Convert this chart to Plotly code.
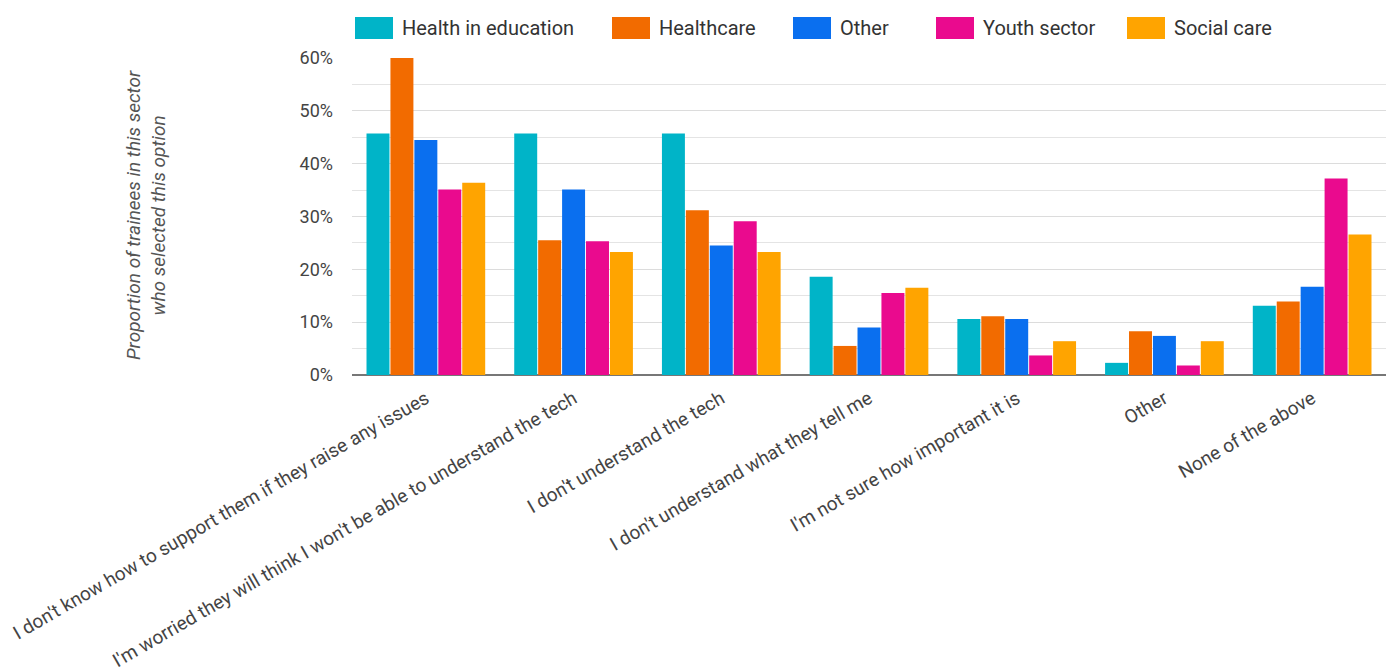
import plotly.graph_objects as go

categories = [
    "I don't know how to support them if they raise any issues",
    "I'm worried they will think I won't be able to understand the tech",
    "I don't understand the tech",
    "I don't understand what they tell me",
    "I'm not sure how important it is",
    "Other",
    "None of the above",
]
series_names = ["Health in education", "Healthcare", "Other", "Youth sector", "Social care"]
health_in_education = [45.7, 45.7, 45.7, 18.6, 10.6, 2.3, 13.1]
healthcare = [60.0, 25.5, 31.2, 5.5, 11.1, 8.3, 13.9]
other = [44.5, 35.1, 24.5, 9.0, 10.6, 7.4, 16.7]
youth_sector = [35.1, 25.3, 29.1, 15.5, 3.7, 1.8, 37.2]
social_care = [36.4, 23.3, 23.3, 16.5, 6.4, 6.4, 26.6]
y_ticks = [0, 10, 20, 30, 40, 50, 60]
y_tick_labels = ["0%", "10%", "20%", "30%", "40%", "50%", "60%"]

colors = ["#00B4C8", "#F26B00", "#0A6FEF", "#EA0A8E", "#FFA400"]
all_values = [health_in_education, healthcare, other, youth_sector, social_care]

fig = go.Figure()
for name, vals, col in zip(series_names, all_values, colors):
    fig.add_trace(go.Bar(
        x=categories, y=vals, name=name,
        marker=dict(color=col, line=dict(width=0)),
        showlegend=False,
    ))

W, H = 1386, 671
L, R, T, B = 352, 0, 58, 296

# custom legend (wide swatches like the reference)
legend_x = [355, 612, 793, 936, 1127]
for name, col, lx in zip(series_names, colors, legend_x):
    fig.add_shape(type="rect", xref="paper", yref="paper",
                  x0=(lx - L) / (W - L - R), x1=(lx + 38 - L) / (W - L - R),
                  y0=(H - B - 39) / (H - T - B), y1=(H - B - 17) / (H - T - B),
                  fillcolor=col, line=dict(width=0))
    fig.add_annotation(xref="paper", yref="paper",
                       x=(lx + 45 - L) / (W - L - R), y=(H - B - 28) / (H - T - B),
                       text=name, showarrow=False, xanchor="left", yanchor="middle",
                       font=dict(size=20, color="#333333", family="Roboto"))

fig.add_annotation(xref="paper", yref="paper",
                   x=(146 - L) / (W - L - R), y=(H - B - 215) / (H - T - B),
                   text="<i>Proportion of trainees in this sector<br>who selected this option</i>",
                   textangle=-90, showarrow=False, xanchor="center", yanchor="middle",
                   font=dict(size=19, color="#555555", family="Roboto"))

fig.update_layout(
    width=W, height=H,
    margin=dict(l=L, r=R, t=T, b=B),
    plot_bgcolor="white", paper_bgcolor="white",
    barmode="group", bargap=0.19, bargroupgap=0.04,
    font=dict(family="Roboto", color="#444444"),
    xaxis=dict(tickangle=-30, tickfont=dict(size=19, color="#444444"),
               showgrid=False, showline=False, ticks="", ticklabelstandoff=8),
    yaxis=dict(range=[0, 60], tickvals=y_ticks, ticktext=y_tick_labels,
               tickfont=dict(size=18, color="#444444"),
               showgrid=True, gridcolor="#dcdcdc", gridwidth=1,
               minor=dict(dtick=5, showgrid=True, gridcolor="#e4e4e4", gridwidth=1),
               zeroline=True, zerolinecolor="#777777", zerolinewidth=1.5,
               ticks="", ticklabelstandoff=18),
)

fig.write_html("out.html")
